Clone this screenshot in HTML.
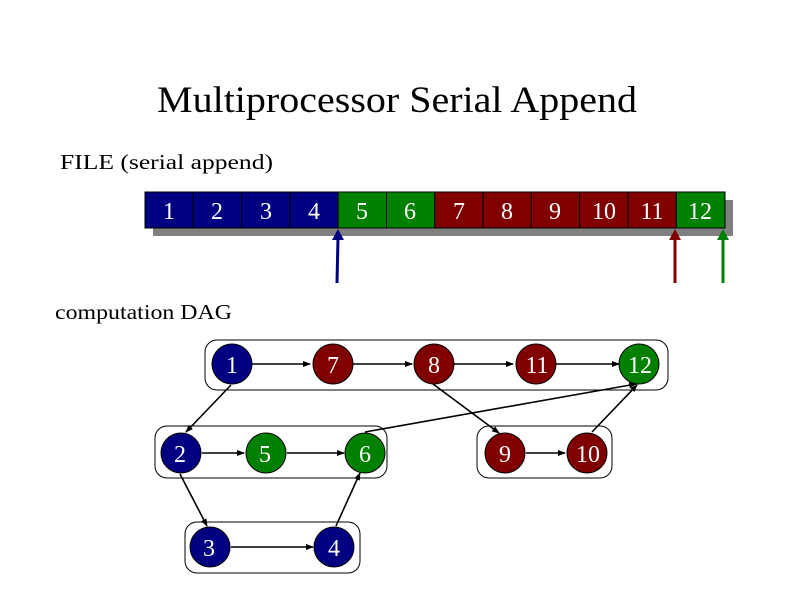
<!DOCTYPE html>
<html><head><style>body{margin:0;background:#fff}svg{display:block}</style></head><body>
<svg width="794" height="595" viewBox="0 0 794 595" xmlns="http://www.w3.org/2000/svg" font-family="Liberation Serif, serif">
<defs>
<marker id="ah" markerWidth="8" markerHeight="8" refX="7" refY="4" orient="auto" markerUnits="userSpaceOnUse"><path d="M0,1 L8,4 L0,7 z" fill="#000"/></marker>
</defs>
<text x="157" y="112" font-size="37" textLength="480" lengthAdjust="spacingAndGlyphs">Multiprocessor Serial Append</text>
<text x="60" y="169" font-size="21" textLength="213" lengthAdjust="spacingAndGlyphs">FILE (serial append)</text>
<text x="55" y="319" font-size="21" textLength="177" lengthAdjust="spacingAndGlyphs">computation DAG</text>
<rect x="153" y="200" width="580" height="36" fill="#808080"/>
<g stroke="#000" stroke-width="1">
<rect x="145" y="192" width="48.3" height="36" fill="#000080"/>
<rect x="193.3" y="192" width="48.3" height="36" fill="#000080"/>
<rect x="241.6" y="192" width="48.3" height="36" fill="#000080"/>
<rect x="289.9" y="192" width="48.3" height="36" fill="#000080"/>
<rect x="338.2" y="192" width="48.3" height="36" fill="#008000"/>
<rect x="386.5" y="192" width="48.3" height="36" fill="#008000"/>
<rect x="434.8" y="192" width="48.3" height="36" fill="#800000"/>
<rect x="483.1" y="192" width="48.3" height="36" fill="#800000"/>
<rect x="531.4" y="192" width="48.3" height="36" fill="#800000"/>
<rect x="579.7" y="192" width="48.3" height="36" fill="#800000"/>
<rect x="628" y="192" width="48.3" height="36" fill="#800000"/>
<rect x="676.3" y="192" width="48.7" height="36" fill="#008000"/>
</g>
<g fill="#fff" font-size="24" text-anchor="middle">
<text x="169" y="219">1</text><text x="217" y="219">2</text><text x="266" y="219">3</text><text x="314" y="219">4</text>
<text x="362" y="219">5</text><text x="410" y="219">6</text><text x="459" y="219">7</text><text x="507" y="219">8</text>
<text x="555" y="219">9</text><text x="604" y="219">10</text><text x="652" y="219">11</text><text x="700" y="219">12</text>
</g>
<line x1="337" y1="283" x2="338" y2="238" stroke="#000080" stroke-width="3"/><path d="M332,240 L338,229 L344,240z" fill="#000080"/>
<line x1="675" y1="283" x2="675" y2="238" stroke="#800000" stroke-width="3"/><path d="M669,240 L675,229 L681,240z" fill="#800000"/>
<line x1="723" y1="283" x2="723" y2="238" stroke="#008000" stroke-width="3"/><path d="M717,240 L723,229 L729,240z" fill="#008000"/>
<g fill="none" stroke="#000" stroke-width="1">
<rect x="205" y="340" width="463" height="50" rx="12"/>
<rect x="155" y="426" width="232" height="52" rx="12"/>
<rect x="477" y="426" width="135" height="52" rx="12"/>
<rect x="185" y="522" width="175" height="51" rx="12"/>
</g>
<g stroke="#000" stroke-width="1.6" marker-end="url(#ah)">
<line x1="252" y1="364" x2="310" y2="364"/>
<line x1="353" y1="364" x2="412" y2="364"/>
<line x1="454" y1="364" x2="513" y2="364"/>
<line x1="556" y1="364" x2="619" y2="364"/>
<line x1="231" y1="385" x2="186" y2="432"/>
<line x1="202" y1="453" x2="244" y2="453"/>
<line x1="287" y1="453" x2="344" y2="453"/>
<line x1="180" y1="474" x2="207" y2="526"/>
<line x1="231" y1="547" x2="313" y2="547"/>
<line x1="336" y1="526" x2="360" y2="473"/>
<line x1="365" y1="432" x2="636" y2="384"/>
<line x1="433" y1="384" x2="499" y2="433"/>
<line x1="526" y1="453" x2="565" y2="453"/>
<line x1="592" y1="432" x2="637" y2="385"/>
</g>
<g stroke="#000" stroke-width="1">
<circle cx="232" cy="364" r="20" fill="#000080"/>
<circle cx="333" cy="364" r="20" fill="#800000"/>
<circle cx="434" cy="364" r="20" fill="#800000"/>
<circle cx="536" cy="364" r="20" fill="#800000"/>
<circle cx="639" cy="364" r="20" fill="#008000"/>
<circle cx="181" cy="453" r="20" fill="#000080"/>
<circle cx="266" cy="453" r="20" fill="#008000"/>
<circle cx="365" cy="453" r="20" fill="#008000"/>
<circle cx="505" cy="453" r="20" fill="#800000"/>
<circle cx="587" cy="453" r="20" fill="#800000"/>
<circle cx="210" cy="547" r="20" fill="#000080"/>
<circle cx="334" cy="547" r="20" fill="#000080"/>
</g>
<g fill="#fff" font-size="24" text-anchor="middle">
<text x="232" y="373">1</text><text x="333" y="373">7</text><text x="434" y="373">8</text><text x="537" y="373">11</text><text x="640" y="373">12</text>
<text x="180" y="462">2</text><text x="265" y="462">5</text><text x="365" y="462">6</text><text x="505" y="462">9</text><text x="588" y="462">10</text>
<text x="209" y="556">3</text><text x="334" y="556">4</text>
</g>
</svg>
</body></html>
